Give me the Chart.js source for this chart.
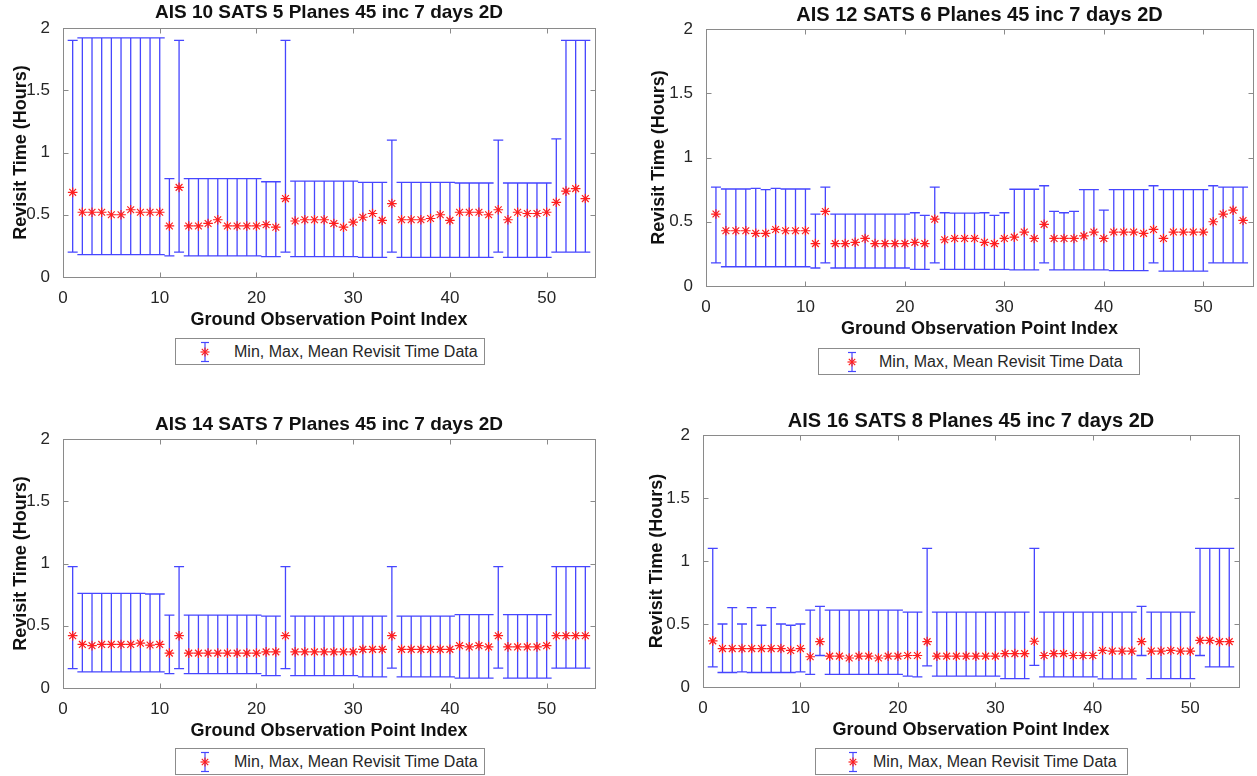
<!DOCTYPE html>
<html>
<head>
<meta charset="utf-8">
<script src="https://cdn.jsdelivr.net/npm/chart.js@4.4.1/dist/chart.umd.min.js"></script>
<style>
  html, body { margin: 0; padding: 0; background: #fff; overflow: hidden; }
  body { width: 1257px; height: 776px; position: relative; font-family: "Liberation Sans", Arial, sans-serif; }
  canvas.panel { position: absolute; }
  .legend { position: absolute; box-sizing: border-box; border: 1px solid #8c8c8c; background: #fff; height: 27px; }
  .legend svg { position: absolute; top: 2px; }
  .legend span { position: absolute; top: 4px; font-size: 16px; color: #262626; white-space: nowrap; }
</style>
</head>
<body>
<canvas id="c1" class="panel" width="607" height="331" style="left:0px;top:0px"></canvas>
<canvas id="c2" class="panel" width="625" height="340" style="left:640px;top:0px"></canvas>
<canvas id="c3" class="panel" width="607" height="331" style="left:0px;top:411px"></canvas>
<canvas id="c4" class="panel" width="611" height="334" style="left:640px;top:407px"></canvas>

<div id="lg1" class="legend" style="left:175px;top:338px;width:310px"></div>
<div id="lg2" class="legend" style="left:818px;top:348px;width:322px"></div>
<div id="lg3" class="legend" style="left:175px;top:748px;width:310px"></div>
<div id="lg4" class="legend" style="left:815px;top:748px;width:313px"></div>

<script>
// Ground observation point index
const idx = [1, 2, 3, 4, 5, 6, 7, 8, 9, 10, 11, 12, 13, 14, 15, 16, 17, 18, 19, 20,
  21, 22, 23, 24, 25, 26, 27, 28, 29, 30, 31, 32, 33, 34, 35, 36, 37, 38, 39, 40,
  41, 42, 43, 44, 45, 46, 47, 48, 49, 50, 51, 52, 53, 54];

const yTicks = [0, 0.5, 1, 1.5, 2];
const xTicks = [0, 10, 20, 30, 40, 50];

const titles = [
  'AIS 10 SATS 5 Planes 45 inc 7 days 2D',
  'AIS 12 SATS 6 Planes 45 inc 7 days 2D',
  'AIS 14 SATS 7 Planes 45 inc 7 days 2D',
  'AIS 16 SATS 8 Planes 45 inc 7 days 2D'
];

// 10 sats
const max10 = [1.90, 1.92, 1.92, 1.92, 1.92, 1.92, 1.92, 1.92, 1.92, 1.92,
  0.79, 1.90, 0.79, 0.79, 0.79, 0.79, 0.79, 0.79, 0.79, 0.79,
  0.765, 0.765, 1.90, 0.77, 0.77, 0.77, 0.77, 0.77, 0.77, 0.77,
  0.76, 0.76, 0.76, 1.10, 0.76, 0.76, 0.76, 0.76, 0.76, 0.76,
  0.755, 0.755, 0.755, 0.755, 1.10, 0.755, 0.755, 0.755, 0.755, 0.755,
  1.11, 1.90, 1.90, 1.90];
const min10 = [0.20, 0.18, 0.18, 0.18, 0.18, 0.18, 0.18, 0.18, 0.18, 0.18,
  0.17, 0.20, 0.17, 0.17, 0.17, 0.17, 0.17, 0.17, 0.17, 0.17,
  0.163, 0.163, 0.20, 0.163, 0.163, 0.163, 0.163, 0.163, 0.163, 0.163,
  0.158, 0.158, 0.158, 0.20, 0.158, 0.158, 0.158, 0.158, 0.158, 0.158,
  0.158, 0.158, 0.158, 0.158, 0.20, 0.158, 0.158, 0.158, 0.158, 0.158,
  0.20, 0.20, 0.20, 0.20];
const mean10 = [0.68, 0.52, 0.52, 0.52, 0.50, 0.50, 0.54, 0.52, 0.52, 0.52,
  0.41, 0.72, 0.41, 0.41, 0.43, 0.46, 0.41, 0.41, 0.41, 0.41,
  0.42, 0.40, 0.63, 0.45, 0.46, 0.46, 0.46, 0.43, 0.40, 0.44,
  0.48, 0.51, 0.455, 0.59, 0.46, 0.46, 0.46, 0.47, 0.50, 0.455,
  0.52, 0.52, 0.52, 0.50, 0.54, 0.46, 0.52, 0.51, 0.51, 0.52,
  0.60, 0.69, 0.71, 0.63];

// 12 sats
const max12 = [0.77, 0.755, 0.755, 0.755, 0.76, 0.75, 0.76, 0.755, 0.755, 0.755,
  0.56, 0.77, 0.56, 0.56, 0.56, 0.56, 0.56, 0.56, 0.56, 0.56,
  0.57, 0.55, 0.77, 0.57, 0.567, 0.567, 0.567, 0.57, 0.55, 0.57,
  0.753, 0.753, 0.753, 0.78, 0.58, 0.57, 0.58, 0.75, 0.75, 0.59,
  0.75, 0.75, 0.75, 0.75, 0.78, 0.75, 0.75, 0.75, 0.75, 0.75,
  0.78, 0.77, 0.77, 0.77];
const min12 = [0.18, 0.15, 0.15, 0.15, 0.15, 0.15, 0.15, 0.15, 0.15, 0.15,
  0.14, 0.18, 0.14, 0.14, 0.14, 0.14, 0.14, 0.14, 0.14, 0.14,
  0.13, 0.13, 0.18, 0.13, 0.13, 0.13, 0.13, 0.13, 0.13, 0.13,
  0.125, 0.125, 0.125, 0.18, 0.125, 0.125, 0.125, 0.125, 0.125, 0.125,
  0.12, 0.12, 0.12, 0.12, 0.18, 0.115, 0.115, 0.115, 0.115, 0.115,
  0.18, 0.18, 0.18, 0.18];
const mean12 = [0.56, 0.43, 0.43, 0.43, 0.41, 0.41, 0.44, 0.43, 0.43, 0.43,
  0.33, 0.58, 0.33, 0.33, 0.34, 0.37, 0.33, 0.33, 0.33, 0.33,
  0.34, 0.33, 0.52, 0.36, 0.37, 0.37, 0.37, 0.34, 0.33, 0.37,
  0.38, 0.42, 0.37, 0.48, 0.37, 0.37, 0.37, 0.39, 0.42, 0.37,
  0.42, 0.42, 0.42, 0.41, 0.44, 0.37, 0.42, 0.42, 0.42, 0.42,
  0.50, 0.56, 0.59, 0.51];

// 14 sats
const max14 = [0.975, 0.76, 0.76, 0.76, 0.76, 0.76, 0.76, 0.76, 0.755, 0.755,
  0.585, 0.975, 0.585, 0.585, 0.585, 0.585, 0.585, 0.585, 0.585, 0.585,
  0.577, 0.577, 0.975, 0.577, 0.577, 0.577, 0.577, 0.577, 0.577, 0.577,
  0.577, 0.577, 0.577, 0.975, 0.577, 0.577, 0.577, 0.577, 0.577, 0.577,
  0.59, 0.59, 0.59, 0.59, 0.975, 0.59, 0.59, 0.59, 0.59, 0.59,
  0.975, 0.975, 0.975, 0.975];
const min14 = [0.156, 0.13, 0.13, 0.13, 0.13, 0.13, 0.13, 0.13, 0.13, 0.13,
  0.116, 0.156, 0.116, 0.116, 0.116, 0.116, 0.116, 0.116, 0.116, 0.116,
  0.10, 0.10, 0.156, 0.10, 0.10, 0.10, 0.10, 0.10, 0.10, 0.10,
  0.09, 0.09, 0.09, 0.16, 0.09, 0.09, 0.09, 0.09, 0.09, 0.09,
  0.08, 0.08, 0.08, 0.08, 0.16, 0.08, 0.08, 0.08, 0.08, 0.08,
  0.16, 0.16, 0.16, 0.16];
const mean14 = [0.42, 0.35, 0.34, 0.35, 0.35, 0.35, 0.35, 0.36, 0.345, 0.35,
  0.28, 0.42, 0.28, 0.28, 0.28, 0.28, 0.28, 0.28, 0.28, 0.28,
  0.29, 0.29, 0.42, 0.29, 0.29, 0.29, 0.29, 0.29, 0.29, 0.29,
  0.31, 0.31, 0.31, 0.42, 0.31, 0.31, 0.31, 0.31, 0.31, 0.31,
  0.34, 0.33, 0.34, 0.33, 0.42, 0.33, 0.33, 0.33, 0.33, 0.34,
  0.42, 0.42, 0.42, 0.42];

// 16 sats
const max16 = [1.10, 0.50, 0.63, 0.50, 0.63, 0.49, 0.63, 0.50, 0.49, 0.50,
  0.61, 0.64, 0.61, 0.61, 0.61, 0.61, 0.61, 0.61, 0.61, 0.61,
  0.595, 0.595, 1.10, 0.595, 0.595, 0.595, 0.595, 0.595, 0.595, 0.595,
  0.595, 0.595, 0.595, 1.10, 0.595, 0.595, 0.595, 0.595, 0.595, 0.595,
  0.595, 0.595, 0.595, 0.595, 0.64, 0.595, 0.595, 0.595, 0.595, 0.595,
  1.10, 1.10, 1.10, 1.10];
const min16 = [0.16, 0.115, 0.115, 0.12, 0.115, 0.115, 0.115, 0.115, 0.115, 0.12,
  0.10, 0.25, 0.10, 0.10, 0.10, 0.10, 0.10, 0.10, 0.10, 0.10,
  0.087, 0.08, 0.167, 0.087, 0.087, 0.087, 0.087, 0.087, 0.087, 0.087,
  0.067, 0.067, 0.067, 0.172, 0.08, 0.08, 0.08, 0.08, 0.08, 0.08,
  0.065, 0.065, 0.065, 0.065, 0.25, 0.067, 0.067, 0.067, 0.067, 0.067,
  0.25, 0.16, 0.16, 0.16];
const mean16 = [0.366, 0.305, 0.305, 0.305, 0.305, 0.305, 0.305, 0.305, 0.29, 0.305,
  0.24, 0.36, 0.245, 0.245, 0.23, 0.245, 0.245, 0.23, 0.245, 0.245,
  0.25, 0.25, 0.36, 0.245, 0.245, 0.245, 0.245, 0.245, 0.245, 0.245,
  0.265, 0.265, 0.265, 0.363, 0.25, 0.265, 0.265, 0.25, 0.25, 0.25,
  0.29, 0.285, 0.285, 0.285, 0.36, 0.285, 0.285, 0.29, 0.285, 0.285,
  0.37, 0.37, 0.36, 0.36];

const FONT = '"Liberation Sans", Arial, Helvetica, sans-serif';
const BAR_COLOR = 'rgb(70,70,255)';
const STAR_COLOR = 'rgb(255,30,30)';

// min/max whiskers with caps, drawn under the mean stars
const errorBars = {
  id: 'errorBars',
  beforeDatasetsDraw(chart) {
    const ds = chart.data.datasets[0];
    const { x, y } = chart.scales;
    const ctx = chart.ctx;
    ctx.save();
    ctx.strokeStyle = BAR_COLOR;
    ctx.lineWidth = 1.3;
    ctx.beginPath();
    ds.data.forEach((p, i) => {
      const px = x.getPixelForValue(p.x);
      const top = y.getPixelForValue(ds.maxs[i]);
      const bot = y.getPixelForValue(ds.mins[i]);
      ctx.moveTo(px, top); ctx.lineTo(px, bot);
      ctx.moveTo(px - 5, top); ctx.lineTo(px + 5, top);
      ctx.moveTo(px - 5, bot); ctx.lineTo(px + 5, bot);
    });
    ctx.stroke();
    ctx.restore();
  }
};

// matlab style box with inward ticks on all sides
const axesBox = {
  id: 'axesBox',
  afterDraw(chart) {
    const { ctx, chartArea: a } = chart;
    const { x, y } = chart.scales;
    const L = Math.round(a.left) + 0.5, R = Math.round(a.right) + 0.5;
    const T = Math.round(a.top) + 0.5, B = Math.round(a.bottom) + 0.5;
    ctx.save();
    ctx.strokeStyle = '#8a8a8a';
    ctx.lineWidth = 1;
    ctx.strokeRect(L, T, R - L, B - T);
    ctx.beginPath();
    xTicks.forEach(v => {
      const px = Math.round(x.getPixelForValue(v)) + 0.5;
      ctx.moveTo(px, B); ctx.lineTo(px, B - 5);
      ctx.moveTo(px, T); ctx.lineTo(px, T + 5);
    });
    yTicks.forEach(v => {
      const py = Math.round(y.getPixelForValue(v)) + 0.5;
      ctx.moveTo(L, py); ctx.lineTo(L + 5, py);
      ctx.moveTo(R, py); ctx.lineTo(R - 5, py);
    });
    ctx.stroke();
    ctx.restore();
  }
};

function makePanel(id, cfg) {
  return new Chart(document.getElementById(id), {
    type: 'scatter',
    data: {
      datasets: [{
        label: 'Min, Max, Mean Revisit Time Data',
        data: idx.map((v, i) => ({ x: v, y: cfg.mean[i] })),
        mins: cfg.min,
        maxs: cfg.max,
        pointStyle: 'star',
        pointRadius: 4.8,
        pointHoverRadius: 4.8,
        borderColor: STAR_COLOR,
        backgroundColor: STAR_COLOR,
        borderWidth: 1.2
      }]
    },
    options: {
      responsive: false,
      animation: false,
      devicePixelRatio: 1,
      layout: { padding: { left: 0, right: 12, top: 0, bottom: 0 } },
      plugins: {
        legend: { display: false },
        tooltip: { enabled: false },
        title: {
          display: true,
          text: cfg.title,
          fullSize: false,
          color: '#111',
          font: { family: FONT, size: cfg.titleSize, weight: 'bold', lineHeight: 1.2 },
          padding: { top: cfg.titleTop, bottom: cfg.titleBottom }
        }
      },
      scales: {
        x: {
          type: 'linear', min: 0, max: 55,
          grid: { display: false }, border: { display: false },
          ticks: { stepSize: 10, includeBounds: false, padding: 3, maxRotation: 0, color: '#262626', font: { family: FONT, size: 17 } },
          title: { display: true, text: 'Ground Observation Point Index', color: '#111', font: { family: FONT, size: 18, weight: 'bold', lineHeight: 1.2 }, padding: { top: 0, bottom: 0 } },
          afterFit: s => { s.height = 54; }
        },
        y: {
          type: 'linear', min: 0, max: 2,
          grid: { display: false }, border: { display: false },
          ticks: { stepSize: 0.5, padding: 5, color: '#262626', font: { family: FONT, size: 17 }, callback: v => String(v) },
          title: { display: true, text: 'Revisit Time (Hours)', color: '#111', font: { family: FONT, size: 18, weight: 'bold', lineHeight: 1.2 }, padding: { top: cfg.yTitlePad, bottom: 0 } },
          afterFit: s => { s.width = cfg.yWidth; }
        }
      }
    },
    plugins: [errorBars, axesBox]
  });
}

makePanel('c1', { title: titles[0], max: max10, min: min10, mean: mean10, titleSize: 19, titleTop: 1.6, titleBottom: 3.6, yWidth: 63, yTitlePad: 10 });
makePanel('c2', { title: titles[1], max: max12, min: min12, mean: mean12, titleSize: 20, titleTop: 3.5, titleBottom: 1.5, yWidth: 66, yTitlePad: 8 });
makePanel('c3', { title: titles[2], max: max14, min: min14, mean: mean14, titleSize: 19, titleTop: 2.6, titleBottom: 2.6, yWidth: 63, yTitlePad: 10 });
makePanel('c4', { title: titles[3], max: max16, min: min16, mean: mean16, titleSize: 20, titleTop: 2, titleBottom: 2, yWidth: 63, yTitlePad: 6 });

// legend: small error bar with a star, then the label
function legendIcon() {
  const s = 'stroke-width="1.2"';
  return '<svg width="14" height="22" viewBox="0 0 14 22">' +
    `<line x1="7" y1="1.5" x2="7" y2="20.5" stroke="${BAR_COLOR}" ${s}/>` +
    `<line x1="3" y1="1.5" x2="11" y2="1.5" stroke="${BAR_COLOR}" ${s}/>` +
    `<line x1="3" y1="20.5" x2="11" y2="20.5" stroke="${BAR_COLOR}" ${s}/>` +
    `<line x1="2.5" y1="11" x2="11.5" y2="11" stroke="${STAR_COLOR}" ${s}/>` +
    `<line x1="7" y1="6.5" x2="7" y2="15.5" stroke="${STAR_COLOR}" ${s}/>` +
    `<line x1="3.8" y1="7.8" x2="10.2" y2="14.2" stroke="${STAR_COLOR}" ${s}/>` +
    `<line x1="3.8" y1="14.2" x2="10.2" y2="7.8" stroke="${STAR_COLOR}" ${s}/>` +
    '</svg>';
}
const legendIds = ['lg1', 'lg2', 'lg3', 'lg4'];
const legendIconX = [22, 26, 22, 30];
const legendTextX = [58, 60, 58, 57];
legendIds.forEach((id, k) => {
  const el = document.getElementById(id);
  el.innerHTML = legendIcon() + '<span>Min, Max, Mean Revisit Time Data</span>';
  el.querySelector('svg').style.left = legendIconX[k] + 'px';
  el.querySelector('span').style.left = legendTextX[k] + 'px';
});
</script>
</body>
</html>
